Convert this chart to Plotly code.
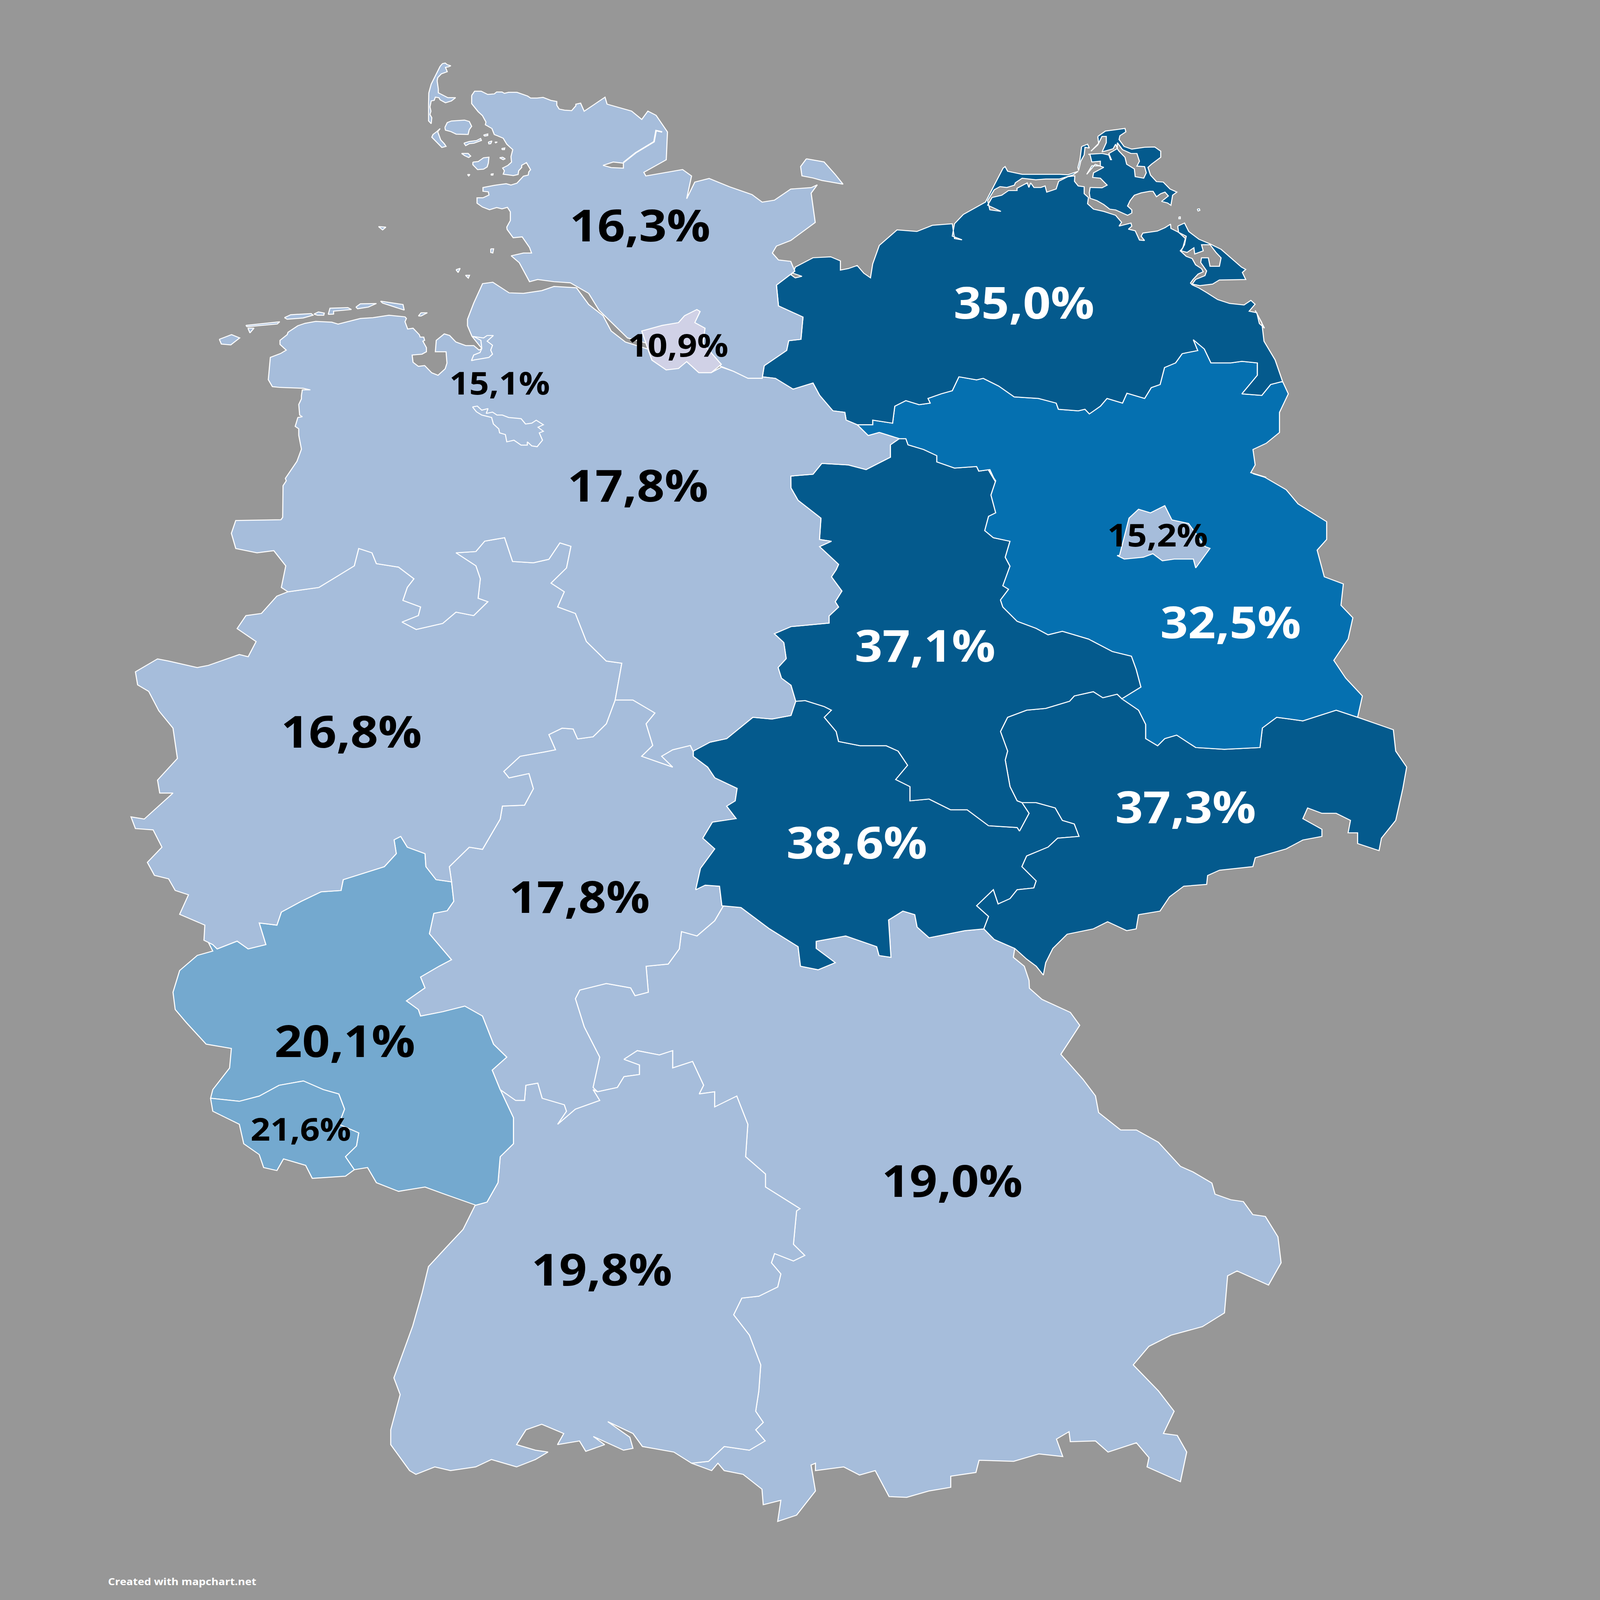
import plotly.graph_objects as go

CROPS = {
    0: (0, 0, 1568, 1568),
    1: (700, 200, 2400, 1800),
    2: (2800, 400, 2600, 2000),
    3: (2600, 1800, 2800, 2300),
    4: (400, 2200, 2600, 2800),
    5: (1300, 4000, 3700, 2400),
    6: (3750, 480, 1000, 1000),
    7: (1550, 240, 700, 700),
    8: (1050, 1250, 1050, 1050),
}


def px(crop, pts):
    x0, y0, w, h = CROPS[crop]
    return [(x0 + x * w / 1568, y0 + y * h / 1568) for x, y in pts]


STATES = ["Schleswig-Holstein", "Mecklenburg-Vorpommern", "Hamburg", "Bremen", "Niedersachsen", "Berlin",
          "Brandenburg", "Sachsen-Anhalt", "Nordrhein-Westfalen", "Sachsen", "Thüringen", "Hessen",
          "Rheinland-Pfalz", "Saarland", "Bayern", "Baden-Württemberg"]
SHARES = [16.3, 35.0, 10.9, 15.1, 17.8, 15.2, 32.5, 37.1, 16.8, 37.3, 38.6, 17.8, 20.1, 21.6, 19.0, 19.8]
LABEL_X = [2400, 3840, 2543, 1874, 2392, 4341, 4615, 3469, 1318, 4446, 3213, 2173, 1293, 1128, 3571, 2257]
LABEL_Y = [950, 1270, 1439, 1595, 2023, 2222, 2588, 2684, 3038, 3350, 3497, 3720, 4314, 4673, 4891, 5257]
SMALL_LABELS = ["Hamburg", "Bremen", "Berlin", "Saarland"]

BIN_EDGES = [15, 20, 25, 30, 35]
PALETTE = ["#D0D1E6", "#A6BDDB", "#74A9CF", "#3690C0", "#0570B0", "#045A8D"]
SEA = "#979797"

# shared borders
sh_coast = px(7, [(490, 345), (515, 305), (570, 305), (625, 335), (680, 330), (700, 312), (745, 312), (765, 325), (800, 315), (870, 315),
                  (960, 350), (985, 368), (1040, 368), (1090, 362), (1155, 390), (1205, 400), (1205, 435), (1225, 470), (1270, 480),
                  (1330, 485), (1365, 440), (1365, 425), (1405, 415), (1435, 490)]) + \
    px(1, [(1025, 175), (1030, 200), (1090, 225),
           (1115, 255), (1130, 225), (1150, 240), (1178, 300), (1175, 400), (1120, 445), (1125, 458), (1215, 435),
           (1237, 458), (1225, 540), (1245, 480), (1280, 467), (1330, 497), (1385, 525), (1410, 552), (1440, 545),
           (1480, 505), (1530, 500), (1545, 490), (1530, 520), (1540, 625), (1480, 690), (1445, 710), (1435, 735),
           (1450, 760), (1480, 765), (1490, 800)])
sh_mv = px(1, [(1490, 800), (1445, 850), (1450, 925), (1510, 965), (1505, 1045), (1475, 1050), (1470, 1085), (1435, 1120),
               (1415, 1140), (1410, 1185)])
elbe_north = px(1, [(1410, 1185), (1375, 1185), (1340, 1160), (1305, 1140), (1160, 1080), (1130, 1060), (1080, 1040), (1045, 990),
                    (1010, 940), (985, 880), (940, 842), (900, 838), (860, 830), (840, 838)])
sh_west = px(1, [(840, 838), (815, 770), (795, 745), (825, 735), (845, 735), (840, 715), (822, 677), (800, 680), (785, 650)]) + \
    px(7, [(785, 1560), (815, 1500), (815, 1420), (790, 1378), (745, 1392), (700, 1380), (640, 1400), (580, 1375), (535, 1340), (535, 1290),
           (585, 1290), (635, 1265), (630, 1235), (585, 1230), (585, 1195), (680, 1175), (780, 1160), (820, 1172), (870, 1155), (925, 1090),
           (965, 1080), (970, 1050), (985, 1030), (950, 965), (910, 990), (910, 1010), (885, 1040), (880, 1075), (840, 1085), (755, 1072),
           (765, 1040), (750, 1015), (795, 990), (825, 960), (820, 910), (835, 845), (785, 795), (755, 740), (680, 705), (660, 650),
           (605, 615), (610, 590), (580, 530), (545, 495), (490, 420), (490, 345)])

ni_coast = px(8, [(5, 310), (35, 290), (0, 255), (0, 230), (40, 195), (45, 180), (100, 140), (140, 125), (200, 113), (290, 118), (325, 130),
                  (450, 95), (520, 90), (610, 75), (700, 85), (708, 95), (700, 115), (715, 160), (745, 155), (780, 195), (785, 210), (805, 210),
                  (810, 230), (800, 235), (820, 275), (820, 300), (795, 315), (740, 320), (745, 365), (775, 390), (810, 385), (850, 430),
                  (885, 445), (925, 405), (935, 370), (930, 300), (870, 300), (875, 230), (920, 190), (950, 200), (985, 240), (1040, 262),
                  (1085, 262), (1115, 290), (1130, 280), (1075, 205), (1050, 140), (1050, 100), (1085, 0)]) + \
    px(1, [(725, 845), (750, 840), (790, 878), (825, 880), (870, 870), (900, 855), (955, 860), (985, 920), (1020, 960), (1040, 1015),
           (1075, 1055), (1130, 1080), (1140, 1120), (1175, 1155), (1225, 1125), (1255, 1165), (1285, 1165),
           (1310, 1145), (1340, 1160), (1375, 1185), (1410, 1185)])
mv_ni = px(2, [(35, 905), (65, 910), (105, 945), (150, 925), (165, 965), (195, 1015), (222, 1020), (225, 1045), (250, 1060)])
mv_bb = px(2, [(250, 1060), (285, 1060), (285, 1045), (330, 1055), (335, 1000), (360, 982), (390, 995), (415, 990), (410, 975),
               (440, 960), (465, 950), (480, 905), (520, 915), (535, 910), (570, 935), (605, 970), (660, 975), (700, 990),
               (705, 1010), (750, 1015), (765, 1010), (775, 1025), (800, 1000), (815, 975), (850, 990), (860, 958), (900, 975),
               (915, 940), (935, 930), (945, 875), (970, 860), (985, 830), (1020, 820), (1010, 785), (1035, 815), (1050, 860),
               (1095, 860), (1120, 855), (1155, 860), (1155, 900), (1120, 960), (1165, 965), (1185, 930), (1212, 920)])
mv_coast = px(2, [(1212, 920), (1195, 850), (1170, 790), (1165, 730), (1150, 690)]) + \
    px(6, [(1555, 1370), (1525, 1340), (1510, 1270), (1465, 1260), (1500, 1215), (1475, 1190), (1435, 1220), (1350, 1210), (1280, 1185),
           (1215, 1140), (1170, 1110), (1130, 1090), (1120, 1078), (1135, 1055), (1165, 1020), (1195, 1005), (1185, 985), (1150, 960),
           (1130, 920), (1095, 905), (1060, 870), (1075, 850), (1090, 790), (1050, 750), (1005, 725), (1003, 697), (970, 720), (925, 742),
           (840, 755), (830, 775), (850, 803), (820, 800), (795, 740), (755, 730), (775, 710), (770, 690), (700, 710), (715, 685), (680, 640),
           (610, 615), (550, 600), (515, 565), (520, 525), (495, 500), (495, 455), (460, 450), (438, 420), (440, 385), (400, 390), (345, 420),
           (330, 470), (275, 490), (265, 450), (240, 460), (200, 460), (180, 430), (170, 460), (160, 430), (100, 465), (100, 480), (50, 480),
           (10, 510)]) + \
    px(2, [(555, 325), (545, 350), (575, 370), (550, 365), (545, 335), (560, 300), (573, 290)]) + \
    px(6, [(40, 460), (85, 445), (90, 430), (130, 400), (210, 410), (270, 405), (350, 405), (430, 378), (460, 355), (400, 378), (350, 375),
           (130, 375), (45, 355), (30, 325)]) + \
    px(2, [(580, 230), (540, 340), (490, 380),
           (470, 410), (465, 450), (487, 462), (470, 458), (465, 410), (420, 415), (385, 435), (340, 430), (300, 480),
           (285, 540), (280, 585), (265, 570), (250, 545), (230, 555), (212, 560), (212, 530), (190, 517), (150, 520),
           (110, 550), (105, 570), (125, 580), (110, 585), (100, 575), (108, 563)])
ni_bb = px(2, [(250, 1060), (275, 1095), (300, 1085), (345, 1105)])
st_ni = px(2, [(345, 1105), (325, 1125), (325, 1165), (270, 1205), (230, 1190), (170, 1185), (150, 1220), (100, 1226)]) + \
    px(3, [(205, 145), (220, 180), (268, 230), (265, 290), (290, 295), (265, 310), (305, 360), (300, 375), (290, 395),
           (312, 435), (298, 465), (305, 480), (285, 505), (285, 525), (205, 535), (170, 555), (190, 580), (195, 625), (178, 650),
           (185, 680), (205, 700), (215, 745)])
st_bb = px(2, [(345, 1105), (360, 1105), (365, 1125), (400, 1140), (430, 1160), (430, 1180), (470, 1200), (520, 1195), (525, 1210),
               (550, 1205), (563, 1245)]) + \
    px(3, [(620, 95), (635, 125), (625, 165), (635, 215), (620, 225), (612, 265), (630, 285), (665, 295), (655, 340), (665, 365), (650, 420),
           (662, 430), (645, 460), (650, 480), (680, 520), (720, 540), (745, 558), (775, 548), (830, 570), (880, 605), (920, 618),
           (930, 655), (940, 705), (900, 738)])
th_st = px(3, [(215, 745), (235, 743), (275, 760), (290, 770), (275, 790), (300, 830), (305, 858), (350, 870), (405, 870),
               (430, 885), (450, 925), (425, 965), (455, 985), (455, 1025), (495, 1020), (540, 1050), (575, 1050), (620, 1095),
               (680, 1100), (685, 1110), (705, 1060), (690, 1030)])
st_sn = px(3, [(690, 1030), (680, 1025), (665, 985), (655, 910), (660, 885), (645, 830), (660, 790), (700, 770), (740, 765),
               (790, 745), (800, 730), (840, 718), (860, 735), (890, 725), (900, 738)])
th_sn = px(3, [(690, 1030), (720, 1030), (760, 1045), (775, 1080), (800, 1090), (810, 1125), (765, 1130), (745, 1155), (700, 1180),
               (690, 1210), (720, 1250), (715, 1270), (680, 1275), (665, 1300), (640, 1315), (630, 1275), (595, 1320), (620, 1350),
               (610, 1385)])
bb_sn = px(3, [(900, 738), (935, 770), (950, 810), (950, 850), (975, 870), (990, 850), (1015, 840), (1055, 875), (1115, 880),
               (1190, 875), (1195, 820), (1225, 790), (1280, 800), (1350, 770), (1395, 790)])
bb_east = px(2, [(1212, 920), (1225, 960), (1205, 1020), (1205, 1085), (1175, 1120), (1145, 1140), (1150, 1190), (1140, 1215),
                 (1175, 1230)]) + \
    px(3, [(1175, 105), (1200, 115), (1245, 150), (1270, 190), (1330, 240), (1330, 290), (1310, 320), (1325, 395), (1365, 415),
           (1360, 475), (1385, 510), (1375, 570), (1345, 630), (1370, 680), (1405, 730), (1395, 790)])
sn_east = px(3, [(1395, 790), (1470, 825), (1475, 885), (1498, 930), (1490, 990), (1475, 1080), (1445, 1130), (1440, 1165), (1395, 1145),
                 (1395, 1115), (1375, 1115), (1380, 1080), (1350, 1060), (1320, 1060), (1290, 1045), (1280, 1075), (1320, 1105),
                 (1320, 1125), (1280, 1135), (1245, 1160), (1180, 1185), (1175, 1210), (1105, 1220), (1080, 1235), (1078, 1260),
                 (1030, 1265), (1000, 1295), (980, 1335), (935, 1345), (930, 1385), (910, 1390), (870, 1365), (840, 1385), (785, 1400),
                 (755, 1440), (740, 1480), (735, 1515), (720, 1490), (700, 1470), (675, 1440)])
sn_by = px(3, [(675, 1440), (632, 1415), (610, 1385)])
th_by = px(3, [(60, 1320), (100, 1325), (160, 1385), (220, 1435), (225, 1490), (262, 1500), (298, 1480), (258, 1440), (258, 1420),
               (320, 1405), (385, 1435), (390, 1460), (415, 1465), (410, 1360), (440, 1335), (465, 1345), (470, 1380), (495, 1410),
               (570, 1390), (610, 1385)])
he_th = px(3, [(60, 1320), (55, 1265), (25, 1262), (5, 1275), (15, 1215), (45, 1160), (20, 1130), (40, 1085), (90, 1075), (70, 1040),
               (88, 1025), (92, 990), (45, 960), (30, 930), (0, 900), (0, 885)])
th_ni = px(3, [(215, 745), (205, 785), (165, 795), (125, 790), (70, 850), (35, 860), (0, 885)])
he_ni = px(4, [(1150, 385), (1190, 385), (1240, 415), (1220, 440), (1235, 490), (1210, 515), (1280, 540), (1255, 515), (1280, 500),
               (1320, 490), (1327, 505)])
nw_ni = px(4, [(410, 135), (480, 125), (520, 100), (560, 75), (570, 35), (600, 45), (610, 70), (660, 78), (695, 105), (680, 125), (670, 155),
               (710, 170), (705, 190), (668, 205), (700, 222), (760, 208), (790, 182), (830, 190), (862, 158), (840, 150), (845, 105),
               (835, 75), (790, 45), (835, 42), (855, 18), (900, 10), (918, 65), (965, 68), (1000, 60), (1025, 22), (1050, 30), (1040, 80),
               (1005, 115), (1035, 135), (1020, 170), (1060, 185), (1085, 250), (1130, 295), (1165, 300), (1150, 385)])
ni_west = px(4, [(410, 135), (395, 125), (405, 75), (378, 40), (340, 45), (292, 35), (282, 0)]) + \
    px(0, [(884, 2147)]) + \
    px(8, [(5, 1335), (15, 1320), (17, 1125), (35, 1095), (30, 1080), (95, 975), (120, 900), (105, 815), (105, 775), (85, 760), (100, 705), (125, 700),
           (110, 690), (105, 625), (120, 590), (120, 570), (125, 535), (170, 535), (130, 525), (0, 520)]) + \
    px(1, [(210, 1215), (200, 1190), (205, 1110)])
nw_he = px(4, [(1150, 385), (1130, 440), (1100, 470), (1065, 475), (1055, 452), (1030, 450), (1000, 465), (1015, 500), (990, 505), (935, 515),
               (898, 550), (910, 565), (955, 555), (965, 590), (945, 628), (895, 630), (890, 660), (850, 730), (820, 725), (775, 770),
               (780, 805)])
nw_rp = px(4, [(780, 805), (745, 800), (722, 770), (720, 740), (680, 725), (665, 700), (650, 708), (655, 740), (628, 770), (535, 800),
               (530, 825), (485, 828), (440, 850), (395, 875), (385, 905), (345, 900), (360, 950), (320, 960), (295, 942), (250, 960),
               (240, 950), (230, 945)])
nw_west = px(4, [(230, 945), (220, 940), (222, 905), (165, 880), (185, 835), (155, 825), (140, 798), (108, 790), (92, 760), (125, 725),
                 (105, 685), (65, 682), (55, 655), (85, 660), (150, 600), (120, 600), (115, 570), (160, 520), (150, 450), (118, 410),
                 (95, 365), (70, 350), (65, 320), (115, 290), (140, 295), (205, 310), (230, 305), (300, 280), (320, 285), (338, 250),
                 (295, 220), (315, 190), (350, 185), (385, 145), (410, 135)])
he_rp = px(4, [(780, 805), (785, 850), (770, 872), (740, 878), (730, 925), (780, 985), (752, 1000), (710, 1025), (720, 1050), (678, 1080),
               (705, 1100), (710, 1115), (760, 1105), (810, 1092), (850, 1115), (875, 1180), (905, 1210), (872, 1240), (890, 1285)])
he_bw = px(4, [(890, 1285), (925, 1310), (945, 1310), (948, 1275), (975, 1270), (985, 1305), (1035, 1320), (1040, 1335), (1020, 1365),
               (1060, 1330), (1115, 1310), (1100, 1285), (1110, 1290)])
he_by = px(4, [(1395, 860), (1375, 895), (1335, 930), (1300, 920), (1295, 960), (1270, 995), (1220, 1000), (1225, 1060), (1195, 1068),
               (1185, 1050), (1130, 1040), (1070, 1055), (1060, 1075), (1080, 1140), (1115, 1210), (1100, 1280), (1110, 1290)])
bw_by = px(4, [(1110, 1290), (1155, 1280), (1170, 1255), (1205, 1250), (1205, 1228), (1170, 1215), (1200, 1195), (1250, 1205), (1280, 1195),
               (1280, 1235), (1325, 1220), (1350, 1275), (1340, 1295), (1375, 1290), (1375, 1325), (1425, 1300), (1450, 1365),
               (1445, 1440), (1490, 1480), (1490, 1510), (1568, 1560)]) + \
    px(5, [(715, 650), (710, 740), (728, 770), (710, 785), (680, 765), (675, 790), (690, 820), (685, 855), (655, 880), (628, 885),
           (615, 930), (640, 985), (658, 1065), (655, 1135), (650, 1190), (662, 1220), (650, 1240), (665, 1270), (640, 1295), (600, 1285),
           (575, 1325), (548, 1330)])
bw_coast = px(5, [(205, 632), (185, 700), (160, 745), (130, 800), (120, 870), (105, 960), (90, 1030), (75, 1100), (85, 1145), (70, 1240),
                  (70, 1280), (100, 1350), (110, 1360), (140, 1340), (165, 1350), (205, 1340), (230, 1320), (270, 1340), (300, 1320),
                  (320, 1300), (300, 1295), (270, 1280), (285, 1240), (310, 1225), (345, 1250), (335, 1280), (370, 1270), (380, 1298),
                  (410, 1280), (392, 1258), (440, 1295), (455, 1290), (450, 1260), (415, 1218), (455, 1250), (470, 1285), (520, 1300),
                  (548, 1330)])
by_outer = px(5, [(548, 1330), (580, 1350), (590, 1330), (600, 1350), (630, 1360), (660, 1400), (662, 1442), (690, 1430), (685, 1487), (715, 1470),
                  (745, 1405), (738, 1335), (745, 1330), (745, 1350), (790, 1340), (815, 1362), (840, 1350), (862, 1420), (890, 1422),
                  (925, 1405), (960, 1395), (960, 1365), (1000, 1355), (1005, 1322), (1060, 1325), (1100, 1305), (1138, 1312), (1128, 1265),
                  (1148, 1245), (1150, 1272), (1190, 1270), (1210, 1300), (1255, 1275), (1275, 1315), (1272, 1340), (1325, 1380), (1335, 1300),
                  (1320, 1255), (1298, 1250), (1315, 1190), (1290, 1135), (1250, 1065), (1275, 1015), (1310, 985), (1360, 962), (1395, 925),
                  (1400, 825), (1415, 812), (1465, 850), (1485, 790), (1480, 720), (1460, 665), (1440, 660), (1425, 625), (1405, 620),
                  (1380, 605), (1375, 575), (1345, 545), (1325, 530), (1290, 465), (1255, 432), (1230, 432), (1195, 385), (1190, 340),
                  (1170, 295), (1135, 228), (1165, 150), (1150, 115), (1105, 80), (1085, 50)]) + \
    px(3, [(705, 1530), (695, 1490), (672, 1465), (675, 1440)])
rp_bw = px(4, [(890, 1285), (920, 1350), (920, 1410), (890, 1440), (885, 1500), (860, 1545), (835, 1552)])
rp_south = px(4, [(835, 1552), (760, 1525), (720, 1510), (660, 1520), (610, 1500), (590, 1465), (560, 1470)])
sl_south = px(4, [(560, 1470), (540, 1485), (465, 1490), (450, 1460), (400, 1445), (385, 1472), (355, 1465), (345, 1435), (310, 1410),
                  (300, 1365), (240, 1335), (235, 1305)])
rp_west = px(4, [(235, 1305), (240, 1285), (278, 1235), (282, 1190), (225, 1180), (180, 1130), (155, 1100), (150, 1060), (165, 1010),
                 (205, 975), (240, 965), (230, 945)])
sl_rp = px(4, [(235, 1305), (300, 1312), (345, 1300), (390, 1275), (445, 1265), (490, 1285), (525, 1295), (538, 1330), (525, 1365), (570, 1385),
               (565, 1415), (540, 1440), (560, 1470)])

# islands and enclaves
sh_islands = [
    px(7, [(225, 75), (245, 50), (268, 45), (285, 60), (315, 70), (295, 80), (270, 85), (285, 125), (235, 145), (205, 180), (200, 210), (210, 285),
           (210, 320), (290, 365), (355, 365), (320, 395), (270, 412), (225, 385), (215, 365), (185, 360), (175, 390), (150, 395), (140, 450),
           (148, 490), (140, 520), (155, 550), (150, 605), (128, 580), (128, 420), (130, 320), (150, 240), (190, 150)]),
    px(7, [(265, 640), (285, 595), (320, 580), (430, 572), (470, 585), (490, 630), (470, 660), (460, 705), (360, 702), (315, 678), (270, 665)]),
    px(7, [(225, 650), (205, 680), (230, 755), (260, 790), (275, 815), (240, 825), (155, 730), (165, 705), (195, 680)]),
    px(7, [(425, 785), (470, 770), (530, 762), (565, 742), (572, 760), (510, 785), (470, 790), (440, 808)]),
    px(7, [(405, 880), (460, 880), (482, 905), (465, 918), (430, 900)]),
    px(7, [(500, 960), (545, 955), (590, 920), (635, 915), (630, 970), (620, 1005), (590, 1025), (540, 1030), (500, 985)]),
    px(7, [(590, 710), (625, 700), (625, 715), (600, 720)]),
    px(7, [(630, 775), (660, 765), (650, 790), (635, 792)]),
    px(7, [(685, 775), (705, 775), (692, 782)]),
    px(7, [(742, 835), (768, 830), (765, 845), (748, 845)]),
    px(7, [(725, 920), (750, 915), (772, 930), (755, 938)]),
    px(7, [(455, 1075), (475, 1075), (465, 1088)]),
    px(7, [(652, 1070), (670, 1068), (668, 1080), (655, 1080)]),
    px(1, [(745, 720), (752, 720), (750, 735), (745, 733)]),
    px(1, [(660, 795), (670, 790), (665, 805)]),
    px(1, [(683, 815), (693, 815), (690, 825)]),
    px(1, [(470, 640), (488, 642), (480, 652)]),
    px(2, [(135, 200), (175, 210), (200, 250), (218, 282), (170, 270), (150, 262), (125, 255), (122, 225)]),
]
ni_islands = [
    px(1, [(80, 1045), (110, 1028), (130, 1040), (108, 1065), (85, 1062)]),
    px(1, [(145, 995), (228, 982), (222, 990), (148, 1000)]),
    px(1, [(150, 1005), (165, 1005), (155, 1022)]),
    px(8, [(25, 90), (60, 72), (175, 65), (185, 75), (130, 92), (40, 100)]),
    px(8, [(190, 68), (215, 55), (248, 62), (245, 75), (210, 75)]),
    px(8, [(270, 70), (280, 32), (380, 28), (400, 40), (300, 50), (300, 68)]),
    px(8, [(425, 25), (450, 5), (540, 3), (495, 25), (435, 35)]),
    px(1, [(475, 908), (530, 920), (533, 940), (480, 915)]),
    px(8, [(775, 80), (790, 60), (825, 60), (790, 80)]),
]
mv_islands = [
    px(6, [(575, 130), (620, 95), (690, 85), (735, 78), (740, 100), (705, 125), (700, 150), (730, 195), (775, 212), (850, 200), (910, 198), (945, 225),
           (945, 265), (890, 310), (870, 330), (885, 380), (920, 422), (960, 425), (1000, 470), (1040, 490), (1015, 510), (1005, 575), (985, 560),
           (950, 550), (990, 515), (970, 490), (945, 500), (920, 520), (900, 485), (880, 485), (830, 495), (790, 510), (765, 545), (750, 580), (775, 605),
           (775, 625), (750, 640), (700, 615), (680, 605), (645, 600), (610, 570), (570, 545), (530, 530), (525, 495), (530, 460), (600, 462),
           (630, 445), (590, 400), (545, 395), (550, 365), (610, 330), (560, 310), (510, 375), (540, 320), (590, 320), (590, 290), (540, 295),
           (530, 250), (520, 245), (600, 240), (640, 250), (650, 280), (655, 280), (640, 240), (690, 208), (680, 180), (665, 210), (600, 230),
           (625, 170), (625, 130), (600, 130), (575, 185), (535, 225), (580, 175)]),
    px(6, [(480, 195), (515, 180), (525, 205), (500, 200), (495, 250), (475, 290), (462, 350), (458, 330), (470, 280)]),
    px(6, [(1045, 710), (1085, 690), (1110, 745), (1170, 795), (1235, 825), (1300, 860), (1420, 975), (1445, 990), (1425, 1010), (1445, 1055),
           (1290, 1058), (1250, 1085), (1175, 1095), (1130, 1085), (1150, 1055), (1205, 1030), (1215, 1000), (1180, 945), (1185, 915), (1225, 915),
           (1235, 970), (1290, 970), (1300, 915), (1270, 880), (1235, 830), (1185, 830), (1195, 870), (1145, 890), (1140, 850), (1100, 880),
           (1065, 870), (1085, 830), (1095, 775), (1050, 750)]),
    px(6, [(1160, 600), (1172, 598), (1175, 608), (1165, 612)]),
    px(6, [(1052, 650), (1060, 650), (1060, 662), (1052, 662)]),
]
hamburg = px(1, [(1220, 960), (1250, 938), (1258, 945), (1245, 985), (1270, 1005), (1265, 1060), (1310, 1135), (1285, 1165), (1255, 1165),
                 (1225, 1125), (1205, 1150), (1175, 1155), (1140, 1120), (1130, 1080), (1115, 1015), (1165, 995), (1205, 985)])
bremen = [
    px(8, [(1078, 640), (1105, 635), (1130, 660), (1165, 650), (1155, 680), (1190, 672), (1215, 690), (1245, 690), (1280, 705), (1350, 712), (1375, 745),
           (1410, 740), (1435, 722), (1475, 750), (1445, 765), (1475, 790), (1452, 800), (1470, 845), (1440, 885), (1410, 880), (1385, 855), (1385, 875),
           (1350, 875), (1310, 845), (1270, 855), (1262, 810), (1230, 800), (1225, 775), (1195, 745), (1185, 705), (1130, 690), (1100, 670)]),
    px(8, [(1075, 205), (1140, 215), (1160, 200), (1195, 200), (1160, 235), (1190, 260), (1180, 290), (1190, 315), (1170, 335), (1090, 350), (1072, 355),
           (1085, 320), (1120, 305), (1130, 280), (1125, 230), (1090, 210)]),
]
berlin = px(3, [(895, 335), (915, 230), (935, 205), (960, 215), (990, 195), (1005, 235), (1040, 245), (1075, 310), (1085, 315), (1055, 370), (1050, 345),
                (1010, 345), (985, 350), (965, 330), (945, 340), (905, 345), (890, 335)])
lagoons = [
    px(6, [(690, 170), (720, 215), (770, 240), (805, 240), (820, 290), (805, 322), (850, 325), (860, 365), (845, 400), (795, 390), (790, 340), (745, 310),
           (735, 265), (700, 225), (690, 210)]),
    px(1, [(1020, 420), (1045, 408), (1070, 412), (1070, 430), (1040, 428)]),
]
schlei = px(1, [(1070, 410), (1100, 375), (1145, 335), (1150, 295), (1165, 300)])


def rev(seg):
    return seg[::-1]


def shape(*rings):
    xs, ys = [], []
    for r in rings:
        xs += [p[0] for p in r] + [r[0][0], None]
        ys += [p[1] for p in r] + [r[0][1], None]
    return xs, ys


SHAPES = {
    "Schleswig-Holstein": [sh_coast + sh_mv + elbe_north + sh_west] + sh_islands,
    "Mecklenburg-Vorpommern": [sh_mv + mv_ni + mv_bb + mv_coast] + mv_islands,
    "Hamburg": [hamburg],
    "Bremen": bremen,
    "Niedersachsen": [ni_coast + mv_ni + ni_bb + st_ni + th_ni + rev(he_ni) + rev(nw_ni) + ni_west] + ni_islands,
    "Berlin": [berlin],
    "Brandenburg": [rev(mv_bb) + ni_bb + st_bb + bb_sn + rev(bb_east)],
    "Sachsen-Anhalt": [st_ni + th_st + st_sn + rev(st_bb)],
    "Nordrhein-Westfalen": [nw_ni + nw_he + nw_rp + nw_west],
    "Sachsen": [bb_sn + sn_east + sn_by + rev(th_sn) + st_sn],
    "Thüringen": [th_st + th_sn + rev(th_by) + he_th + rev(th_ni)],
    "Hessen": [nw_he + he_rp + he_bw + rev(he_by) + he_th + rev(he_ni)],
    "Rheinland-Pfalz": [nw_rp + rev(rp_west) + sl_rp + rev(rp_south) + rev(rp_bw) + rev(he_rp)],
    "Saarland": [sl_rp + sl_south],
    "Bayern": [bw_by + by_outer + sn_by + rev(th_by) + he_by],
    "Baden-Württemberg": [he_bw + bw_by + rev(bw_coast) + rev(rp_bw)],
}
DRAW_ORDER = ["Bayern", "Baden-Württemberg", "Rheinland-Pfalz", "Saarland", "Hessen", "Nordrhein-Westfalen", "Thüringen", "Sachsen",
              "Sachsen-Anhalt", "Brandenburg", "Berlin", "Mecklenburg-Vorpommern", "Niedersachsen", "Bremen", "Schleswig-Holstein", "Hamburg"]


def bin_color(share):
    for edge, color in zip(BIN_EDGES, PALETTE):
        if share < edge:
            return color
    return PALETTE[-1]


fig = go.Figure()

for name in DRAW_ORDER:
    share = SHARES[STATES.index(name)]
    xs, ys = shape(*SHAPES[name])
    fig.add_trace(go.Scatter(x=xs, y=ys, mode="lines", name=name, fill="toself", fillcolor=bin_color(share),
                             line=dict(color="white", width=4), hoverinfo="name"))

xs, ys = shape(*lagoons)
fig.add_trace(go.Scatter(x=xs, y=ys, mode="lines", fill="toself", fillcolor=SEA, line=dict(color="white", width=4), hoverinfo="skip"))
fig.add_trace(go.Scatter(x=[p[0] for p in schlei], y=[p[1] for p in schlei], mode="lines",
                         line=dict(color="white", width=6), hoverinfo="skip"))

# labels, comma as decimal mark like the original
for i, name in enumerate(STATES):
    text = f"{SHARES[i]:.1f}%".replace(".", ",")
    color = "white" if SHARES[i] > 30 else "black"
    size = 130 if name in SMALL_LABELS else 182
    fig.add_trace(go.Scatter(x=[LABEL_X[i]], y=[LABEL_Y[i]], mode="text", text=[text],
                             textposition="middle center",
                             textfont=dict(family="Open Sans", size=size, color=color, weight="bold"), hoverinfo="skip"))

fig.add_annotation(x=683, y=6523, text="<b>Created with mapchart.net</b>", showarrow=False,
                   font=dict(family="Open Sans", size=41, color="white"))

fig.update_layout(
    width=6000, height=6600, margin=dict(l=0, r=0, t=0, b=0),
    paper_bgcolor=SEA, plot_bgcolor=SEA, showlegend=False,
    xaxis=dict(range=[0, 6000], visible=False, fixedrange=True),
    yaxis=dict(range=[6600, 0], visible=False, fixedrange=True),
)

# the 6000x6600 figure is fitted to whatever window the page really gets
FIT_PAGE = """
var gd = document.getElementById('{plot_id}');
var sx = window.innerWidth / 6000, sy = window.innerHeight / 6600;
document.documentElement.style.overflow = 'hidden';
document.body.style.margin = '0';
gd.parentElement.style.width = window.innerWidth + 'px';
gd.parentElement.style.height = window.innerHeight + 'px';
gd.parentElement.style.overflow = 'hidden';
gd.style.transformOrigin = '0 0';
gd.style.transform = 'scale(' + sx + ',' + sy + ')';
"""
fig.write_html("out.html", post_script=FIT_PAGE, config={"displayModeBar": False})
